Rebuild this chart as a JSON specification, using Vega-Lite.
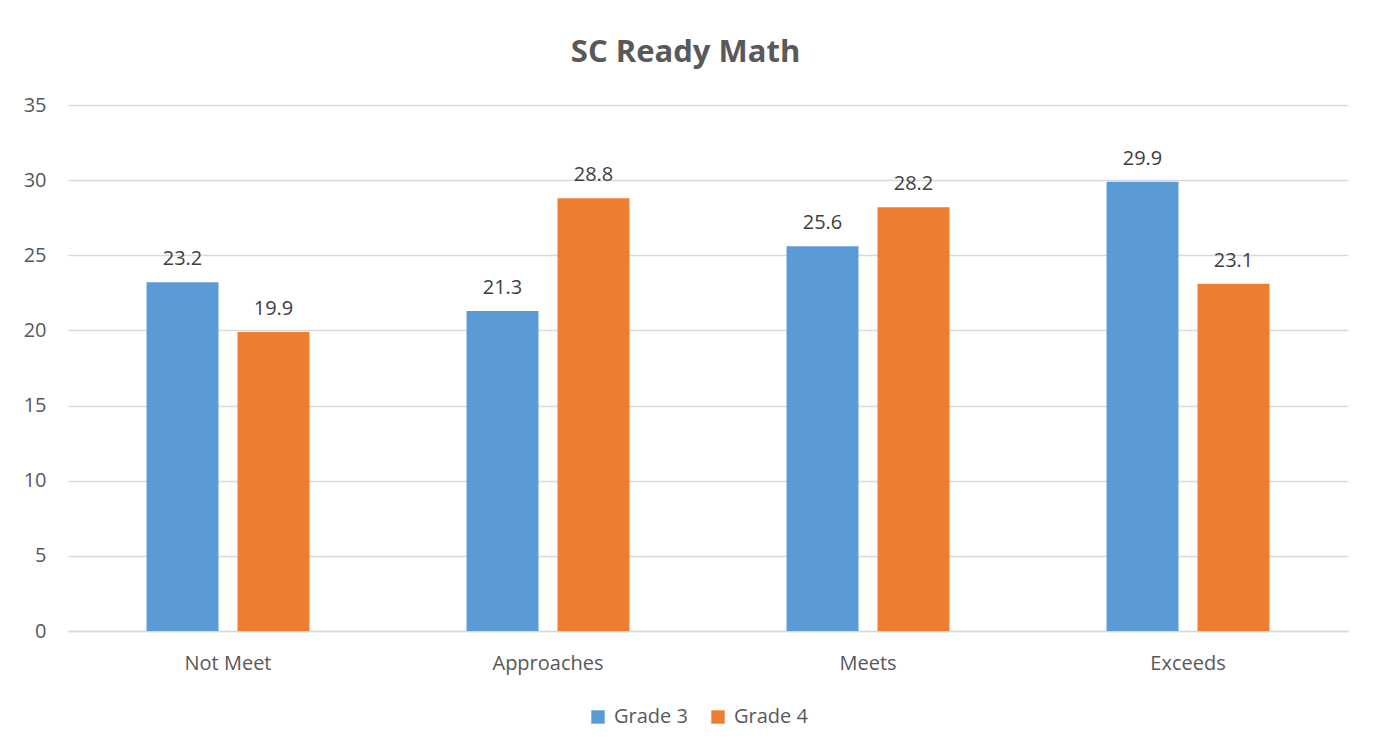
{
  "$schema": "https://vega.github.io/schema/vega-lite/v6.json",
  "width": 1280,
  "height": 526,
  "autosize": {"type": "none"},
  "padding": {"left": 68, "right": 30, "top": 105, "bottom": 118},
  "background": "white",
  "title": {
    "text": "SC Ready Math",
    "fontSize": 31,
    "font": "Open Sans",
    "fontWeight": "bold",
    "color": "#595959",
    "anchor": "middle",
    "frame": "bounds",
    "offset": 26
  },
  "data": {
    "values": [
      {"level": "Not Meet", "grade": "Grade 3", "value": 23.2},
      {"level": "Not Meet", "grade": "Grade 4", "value": 19.9},
      {"level": "Approaches", "grade": "Grade 3", "value": 21.3},
      {"level": "Approaches", "grade": "Grade 4", "value": 28.8},
      {"level": "Meets", "grade": "Grade 3", "value": 25.6},
      {"level": "Meets", "grade": "Grade 4", "value": 28.2},
      {"level": "Exceeds", "grade": "Grade 3", "value": 29.9},
      {"level": "Exceeds", "grade": "Grade 4", "value": 23.1}
    ]
  },
  "encoding": {
    "x": {
      "field": "level",
      "type": "nominal",
      "sort": ["Not Meet", "Approaches", "Meets", "Exceeds"],
      "scale": {"paddingInner": 0, "paddingOuter": 0},
      "axis": {
        "title": null,
        "labelAngle": 0,
        "labelFontSize": 20,
        "labelFont": "Open Sans",
        "labelColor": "#595959",
        "ticks": false,
        "domainColor": "#d9d9d9",
        "domainWidth": 1.5,
        "labelPadding": 22
      }
    },
    "xOffset": {
      "field": "grade",
      "type": "nominal",
      "scale": {"paddingInner": 0.209, "paddingOuter": 0.863}
    },
    "y": {
      "field": "value",
      "type": "quantitative",
      "scale": {"domain": [0, 35], "nice": false},
      "axis": {
        "title": null,
        "values": [0, 5, 10, 15, 20, 25, 30, 35],
        "labelFontSize": 20,
        "labelFont": "Open Sans",
        "labelColor": "#595959",
        "ticks": false,
        "domain": false,
        "gridColor": "#d9d9d9",
        "gridWidth": 1.5,
        "labelPadding": 22
      }
    }
  },
  "layer": [
    {
      "mark": {"type": "bar"},
      "encoding": {
        "color": {
          "field": "grade",
          "type": "nominal",
          "scale": {"domain": ["Grade 3", "Grade 4"], "range": ["#5B9BD5", "#ED7D31"]},
          "legend": {
            "title": null,
            "orient": "none",
            "legendX": 520,
            "legendY": 602,
            "direction": "horizontal",
            "labelFontSize": 20,
            "labelFont": "Open Sans",
            "labelColor": "#595959",
            "symbolType": "square",
            "symbolSize": 180,
            "symbolStrokeWidth": 0,
            "symbolOffset": 0,
            "labelOffset": 6,
            "columnPadding": 20
          }
        }
      }
    },
    {
      "mark": {"type": "text", "dy": -13, "baseline": "bottom", "fontSize": 20, "font": "Open Sans", "color": "#404040"},
      "encoding": {
        "text": {"field": "value", "type": "quantitative", "format": ".1f"}
      }
    }
  ],
  "config": {
    "view": {"stroke": null}
  }
}
